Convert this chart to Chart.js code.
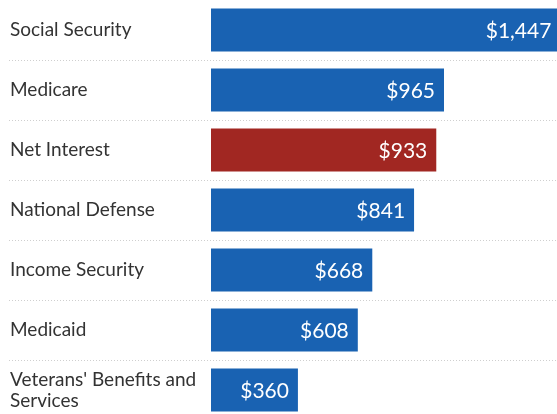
<!DOCTYPE html>
<html>
<head>
<meta charset="utf-8">
<script src="https://cdn.jsdelivr.net/npm/chart.js@4"></script>
<style>
  html, body { margin: 0; padding: 0; background: #fff; }
  #wrap { width: 557px; height: 414px; overflow: hidden; }
</style>
</head>
<body>
<div id="wrap"><canvas id="myChart" width="557" height="420"></canvas></div>
<script>
const categories = [
    'Social Security',
    'Medicare',
    'Net Interest',
    'National Defense',
    'Income Security',
    'Medicaid',
    ["Veterans' Benefits and", 'Services']
];
const spending = [1447, 965, 933, 841, 668, 608, 360];
const valueLabels = ['$1,447', '$965', '$933', '$841', '$668', '$608', '$360'];
const highlight = 'Net Interest';

const BLUE = '#1962b2';
const RED = '#a12722';

// dotted separators between the rows
const rowLines = {
    id: 'rowLines',
    beforeDatasetsDraw(chart) {
        const y = chart.scales.y;
        const ctx = chart.ctx;
        ctx.save();
        ctx.strokeStyle = '#cfcfcf';
        ctx.lineWidth = 1;
        ctx.setLineDash([1, 2]);
        for (let i = 0; i < categories.length - 1; i++) {
            const py = Math.round((y.getPixelForValue(i) + y.getPixelForValue(i + 1)) / 2) + 0.5;
            ctx.beginPath();
            ctx.moveTo(9, py);
            ctx.lineTo(chart.width, py);
            ctx.stroke();
        }
        ctx.restore();
    }
};

// values written inside the end of each bar
const barValues = {
    id: 'barValues',
    afterDatasetsDraw(chart) {
        const ctx = chart.ctx;
        const meta = chart.getDatasetMeta(0);
        ctx.save();
        ctx.fillStyle = '#ffffff';
        ctx.font = '21px Lato';
        ctx.textAlign = 'right';
        ctx.textBaseline = 'middle';
        meta.data.forEach((bar, i) => {
            ctx.fillText(valueLabels[i], bar.x - 9, bar.y + 1);
        });
        ctx.restore();
    }
};

new Chart(document.getElementById('myChart'), {
    type: 'bar',
    data: {
        labels: categories,
        datasets: [{
            data: spending,
            backgroundColor: categories.map(c => c === highlight ? RED : BLUE),
            borderWidth: 0,
            categoryPercentage: 1,
            barPercentage: 0.72
        }]
    },
    options: {
        indexAxis: 'y',
        responsive: false,
        animation: false,
        layout: { padding: { left: 10, right: 0, top: 0, bottom: 0 } },
        plugins: {
            legend: { display: false },
            tooltip: { enabled: false }
        },
        scales: {
            x: {
                display: false,
                min: 0,
                max: 1433
            },
            y: {
                grid: { display: false },
                border: { display: false },
                afterFit(scale) {
                    scale.width = 201;
                    scale.paddingTop = 0;
                    scale.paddingBottom = 0;
                },
                ticks: {
                    crossAlign: 'far',
                    padding: 0,
                    autoSkip: false,
                    color: '#333333',
                    font: { family: 'Lato', size: 19, lineHeight: 1.1 }
                }
            }
        }
    },
    plugins: [rowLines, barValues]
});
</script>
</body>
</html>
